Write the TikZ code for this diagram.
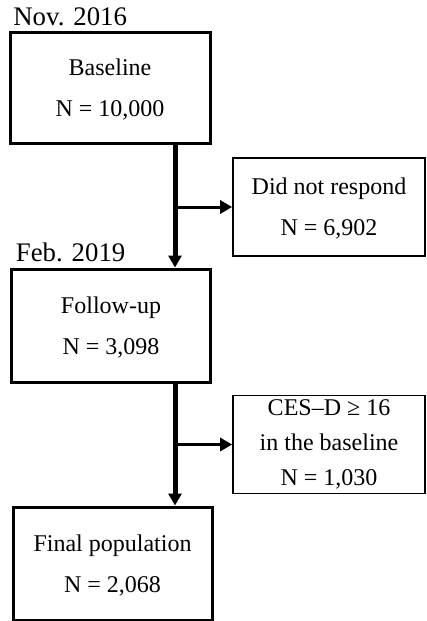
\documentclass[tikz,border=0pt]{standalone}
\usepackage{fontspec}
\setmainfont{Liberation Serif}
\usetikzlibrary{positioning}
\usetikzlibrary{arrows.meta}

\tikzset{
	stage/.style={draw, line width=1.5pt, minimum width=99.5pt, minimum height=56.5pt,
		align=center, inner sep=0pt, text depth=-2pt, font=\fontsize{12}{20.5}\selectfont},
	excl/.style={draw, line width=0.85pt, minimum width=96pt, minimum height=49pt,
		align=center, inner sep=0pt, font=\fontsize{12}{20.5}\selectfont},
	date/.style={inner sep=0pt, font=\fontsize{13.4}{16}\selectfont},
	trunk/.style={line width=2.5pt, -{Triangle[length=6pt,width=6.5pt]}},
	branch/.style={line width=1.5pt, -{Triangle[length=6pt,width=6.5pt]}}
}

\begin{document}
\begin{tikzpicture}[x=0.5pt, y=-0.5pt]
	\useasboundingbox (0,0) rectangle (427,621);
	% main stages
	\node[stage, minimum width=100pt, minimum height=55.5pt] (base) at (110,87.5) {Baseline\\N = 10,000};
	\node[stage] (follow) at (111,325.5) {Follow-up\\N = 3,098};
	\node[stage] (final) at (112.5,563.5) {Final population\\N = 2,068};
	% exclusions
	\node[excl, text depth=-2pt] (noresp) at (329,207) {Did not respond\\N = 6,902};
	\node[excl, font=\fontsize{12}{17.5}\selectfont] (cesd) at (329,444.5) {CES–D ≥ 16\\in the baseline\\N = 1,030};
	% dates
	\node[date, above right=2.25pt and 2.25pt of base.north west] (nov) {Nov. 2016};
	\node[date, above right=2.75pt and 2.75pt of follow.north west] (feb) {Feb. 2019};
	% arrows
	\coordinate (tx) at (175,0);
	\draw[trunk] (base.south -| tx) -- (follow.north -| tx);
	\draw[trunk] (follow.south -| tx) -- (final.north -| tx);
	\draw[branch] (noresp.west -| tx) -- (noresp.west);
	\draw[branch] (cesd.west -| tx) -- (cesd.west);
\end{tikzpicture}
\end{document}
